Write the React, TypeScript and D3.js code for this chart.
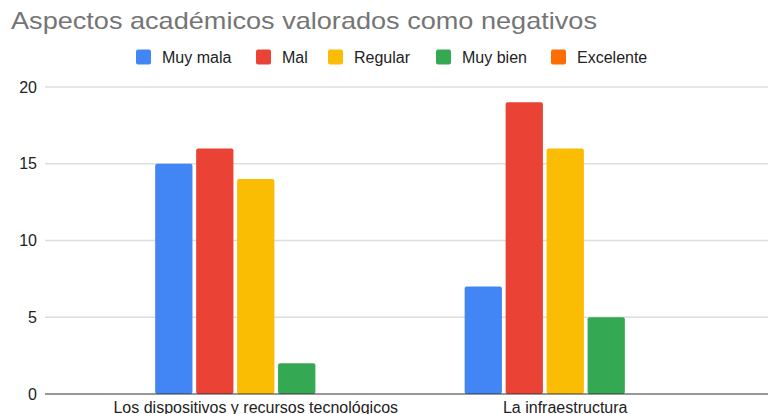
import React from "react";
import * as d3 from "d3";

const categories = ["Los dispositivos y recursos tecnológicos", "La infraestructura"];
const seriesNames = ["Muy mala", "Mal", "Regular", "Muy bien", "Excelente"];
const seriesColors = ["#4285F4", "#EA4335", "#FBBC04", "#34A853", "#FF6D01"];
const muyMala = [15, 7];
const mal = [16, 19];
const regular = [14, 16];
const muyBien = [2, 5];
const excelente = [0, 0];
const yTicks = [0, 5, 10, 15, 20];
const title = "Aspectos académicos valorados como negativos";

const W = 768;
const H = 414;
const FONT = "'Liberation Sans', Arial, sans-serif";

export default function App() {
  const seriesValues = [muyMala, mal, regular, muyBien, excelente];
  const x0 = d3.scaleBand<string>().domain(categories).range([45, 776]).paddingInner(0.35).paddingOuter(0.356);
  const x1 = d3.scaleBand<string>().domain(seriesNames).range([0, x0.bandwidth()]).paddingInner(0.09);
  const y = d3.scaleLinear().domain([0, 20]).range([394, 87]);

  const legendX = [136, 256, 328, 436, 551];

  return (
    <svg width={W} height={H} style={{ position: "absolute", left: 0, top: 0, background: "#fff" }} fontFamily={FONT}>
      <rect width={W} height={H} fill="#fff" />
      <text x={11} y={29} fontSize={24} fill="#757575" textLength={586} lengthAdjust="spacingAndGlyphs">{title}</text>
      {seriesNames.map((s, i) => (
        <g key={s} transform={`translate(${legendX[i]},49.5)`}>
          <rect width={15} height={15} rx={2} fill={seriesColors[i]} />
          <text x={26} y={13.5} fontSize={16} fill="#222">{s}</text>
        </g>
      ))}
      {yTicks.map((t) => (
        <g key={t}>
          {t !== 0 && <line x1={45} x2={W} y1={y(t)} y2={y(t)} stroke="#ddd" strokeWidth={1.5} />}
          <text x={37} y={y(t) + 5.5} fontSize={16} fill="#222" textAnchor="end">{t}</text>
        </g>
      ))}
      {categories.map((c, ci) => (
        <g key={c} transform={`translate(${x0(c)},0)`}>
          {seriesNames.map((s, si) => {
            const v = seriesValues[si][ci];
            if (v <= 0) return null;
            return (
              <rect key={s} x={x1(s)} y={y(v)} width={x1.bandwidth()} height={y(0) - y(v)} rx={2} fill={seriesColors[si]} />
            );
          })}
          <text x={x0.bandwidth() / 2} y={413} fontSize={16} fill="#222" textAnchor="middle">{c}</text>
        </g>
      ))}
      <line x1={45} x2={W} y1={y(0)} y2={y(0)} stroke="#333" strokeWidth={1.2} />
    </svg>
  );
}
